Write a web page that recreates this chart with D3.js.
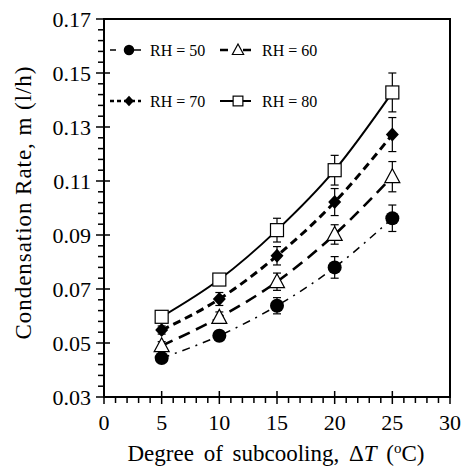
<!DOCTYPE html>
<html>
<head>
<meta charset="utf-8">
<script src="https://cdn.jsdelivr.net/npm/d3@7"></script>
<style>
  body { margin: 0; background: #fff; }
  text { font-family: "Liberation Serif", "Times New Roman", serif; fill: #000; }
</style>
</head>
<body>
<svg id="chart" width="466" height="467"></svg>
<script>
// data
var subcooling = [5, 10, 15, 20, 25];
var rh50 = [0.0444, 0.0527, 0.0638, 0.0780, 0.0962];
var rh60 = [0.0490, 0.0595, 0.0727, 0.0902, 0.1116];
var rh70 = [0.0548, 0.0663, 0.0823, 0.1022, 0.1272];
var rh80 = [0.0597, 0.0735, 0.0918, 0.1140, 0.1428];
var err50 = [0.0015, 0.0018, 0.0030, 0.0040, 0.0049];
var err60 = [0.0015, 0.0020, 0.0032, 0.0036, 0.0056];
var err70 = [0.0015, 0.0024, 0.0034, 0.0050, 0.0063];
var err80 = [0.0015, 0.0020, 0.0044, 0.0055, 0.0072];
var xTicks = [0, 5, 10, 15, 20, 25, 30];
var yTicks = [0.03, 0.05, 0.07, 0.09, 0.11, 0.13, 0.15, 0.17];
var names = ["RH = 50", "RH = 60", "RH = 70", "RH = 80"];

var series = [
  { name: names[0], values: rh50, err: err50, marker: "circle", dash: "8,6,2,6", width: 1.5, legDash: "6,18,8" },
  { name: names[1], values: rh60, err: err60, marker: "triangle", dash: "12,7", width: 2.6, legDash: "8,15,8" },
  { name: names[2], values: rh70, err: err70, marker: "diamond", dash: "8,5", width: 3, legDash: "4,3" },
  { name: names[3], values: rh80, err: err80, marker: "square", dash: null, width: 2, legDash: null }
];

var plotLeft = 104, plotRight = 450, plotTop = 19, plotBottom = 397;
var svg = d3.select("#chart");

var x = d3.scaleLinear().domain([0, 30]).range([plotLeft, plotRight]);
var y = d3.scaleLinear().domain([0.03, 0.17]).range([plotBottom, plotTop]);

// frame
svg.append("rect")
  .attr("x", plotLeft).attr("y", plotTop)
  .attr("width", plotRight - plotLeft).attr("height", plotBottom - plotTop)
  .attr("fill", "none").attr("stroke", "#000").attr("stroke-width", 2);

// minor ticks (outside)
var g = svg.append("g").attr("stroke", "#000").attr("stroke-width", 1.5);
d3.range(0, 31, 1).forEach(function(v) {
  if (v % 5 === 0) return;
  g.append("line").attr("x1", x(v)).attr("x2", x(v)).attr("y1", plotBottom).attr("y2", plotBottom + 6);
});
d3.range(0, 36).forEach(function(i) {
  if (i % 5 === 0) return;
  var v = 0.03 + i * 0.004;
  g.append("line").attr("x1", plotLeft - 6).attr("x2", plotLeft).attr("y1", y(v)).attr("y2", y(v));
});
// major ticks (cross)
xTicks.forEach(function(v) {
  g.append("line").attr("x1", x(v)).attr("x2", x(v)).attr("y1", plotBottom - 6).attr("y2", plotBottom + 7);
  svg.append("text").attr("x", x(v)).attr("y", plotBottom + 33)
    .attr("text-anchor", "middle").attr("font-size", 22).text(v);
});
yTicks.forEach(function(v) {
  g.append("line").attr("x1", plotLeft - 8).attr("x2", plotLeft + 6).attr("y1", y(v)).attr("y2", y(v));
  svg.append("text").attr("x", plotLeft - 13).attr("y", y(v) + 8)
    .attr("text-anchor", "end").attr("font-size", 22).text(v.toFixed(2));
});

// axis titles
var xt = svg.append("text").attr("x", 276).attr("y", 461)
  .attr("text-anchor", "middle").attr("font-size", 23).attr("word-spacing", 4);
xt.append("tspan").text("Degree of subcooling, \u0394");
xt.append("tspan").attr("font-style", "italic").text("T");
xt.append("tspan").text(" (");
xt.append("tspan").attr("font-size", 15).attr("dy", -8).text("o");
xt.append("tspan").attr("dy", 8).text("C)");

svg.append("text")
  .attr("transform", "translate(31,203) rotate(-90)")
  .attr("text-anchor", "middle").attr("font-size", 23)
  .attr("textLength", 273).attr("lengthAdjust", "spacing")
  .text("Condensation Rate, m (l/h)");

// markers
function drawMarker(sel, type, cx, cy, k) {
  if (type === "circle") {
    sel.append("circle").attr("cx", cx).attr("cy", cy).attr("r", 7 * k).attr("fill", "#000");
  } else if (type === "square") {
    sel.append("rect").attr("x", cx - 6.5 * k).attr("y", cy - 6.5 * k).attr("width", 13 * k).attr("height", 13 * k)
      .attr("fill", "#fff").attr("stroke", "#000").attr("stroke-width", 1.2);
  } else if (type === "triangle") {
    sel.append("path").attr("d", "M" + cx + "," + (cy - 8 * k) + "L" + (cx + 7.5 * k) + "," + (cy + 6 * k) + "L" + (cx - 7.5 * k) + "," + (cy + 6 * k) + "Z")
      .attr("fill", "#fff").attr("stroke", "#000").attr("stroke-width", 1.2);
  } else {
    sel.append("path").attr("d", "M" + cx + "," + (cy - 7 * k) + "L" + (cx + 6.5 * k) + "," + cy + "L" + cx + "," + (cy + 7 * k) + "L" + (cx - 6.5 * k) + "," + cy + "Z")
      .attr("fill", "#000");
  }
}

var line = d3.line()
  .x(function(d) { return x(d[0]); })
  .y(function(d) { return y(d[1]); })
  .curve(d3.curveMonotoneX);

series.forEach(function(s) {
  var pts = subcooling.map(function(v, i) { return [v, s.values[i]]; });
  svg.append("path").datum(pts).attr("d", line)
    .attr("fill", "none").attr("stroke", "#000").attr("stroke-width", s.width)
    .attr("stroke-dasharray", s.dash);
});

series.forEach(function(s) {
  var eg = svg.append("g");
  subcooling.forEach(function(v, i) {
    var cx = x(v), hi = y(s.values[i] + s.err[i]), lo = y(s.values[i] - s.err[i]);
    eg.append("line").attr("x1", cx).attr("x2", cx).attr("y1", hi).attr("y2", lo)
      .attr("stroke", "#000").attr("stroke-width", 1.2);
    [hi, lo].forEach(function(yy) {
      eg.append("line").attr("x1", cx - 4).attr("x2", cx + 4).attr("y1", yy).attr("y2", yy)
        .attr("stroke", "#000").attr("stroke-width", 1.2);
    });
  });
  subcooling.forEach(function(v, i) {
    drawMarker(eg, s.marker, x(v), y(s.values[i]), 1);
  });
});

// legend
var legendPos = [[110, 50], [220, 50], [110, 101], [220, 101]];
series.forEach(function(s, i) {
  var lx = legendPos[i][0], ly = legendPos[i][1];
  var lg = svg.append("g");
  lg.append("line").attr("x1", lx).attr("x2", lx + 31).attr("y1", ly).attr("y2", ly)
    .attr("stroke", "#000").attr("stroke-width", Math.min(s.width, 2.5))
    .attr("stroke-dasharray", s.legDash);
  drawMarker(lg, s.marker, lx + (i % 2 === 0 ? 19 : 18), ly, 0.75);
  lg.append("text").attr("x", lx + (i % 2 === 0 ? 40 : 42)).attr("y", ly + 6).attr("font-size", 16).text(s.name);
});
</script>
</body>
</html>
